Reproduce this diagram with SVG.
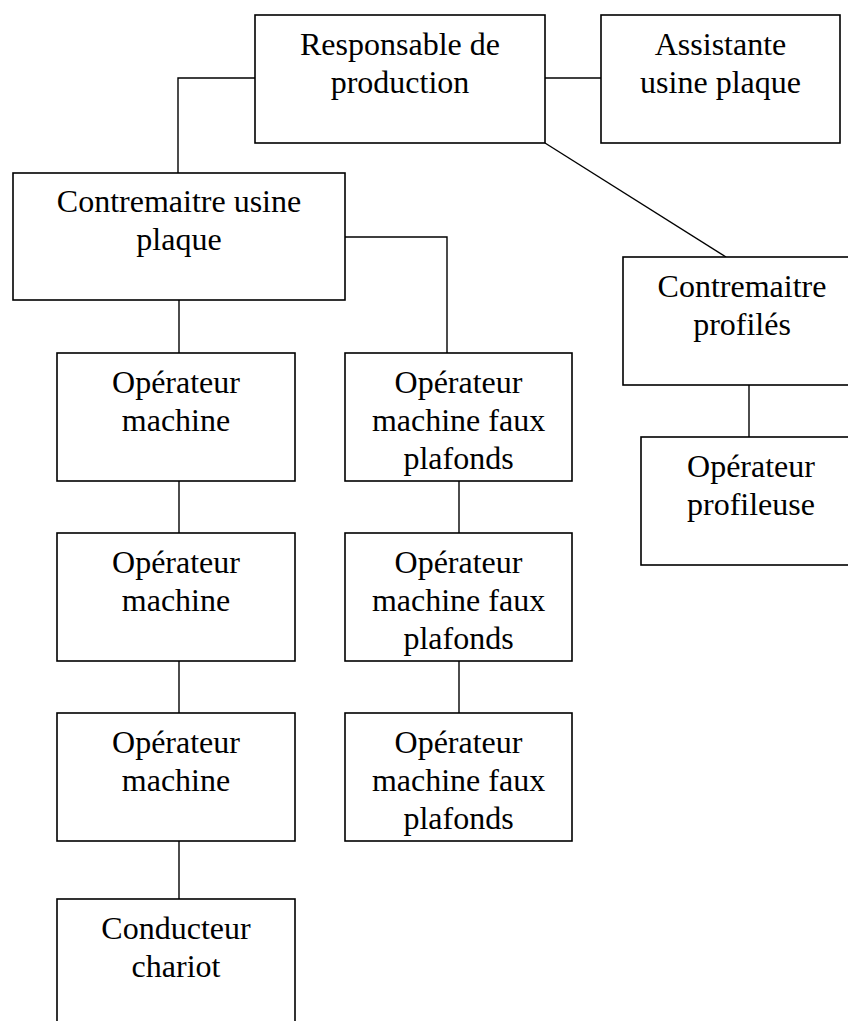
<svg xmlns="http://www.w3.org/2000/svg" width="848" height="1021" viewBox="0 0 848 1021">
  <style>
    .box { fill: #ffffff; stroke: #000000; stroke-width: 1.6; }
    .link { fill: none; stroke: #000000; stroke-width: 1.4; }
    text { font-family: "Liberation Serif", "Times New Roman", serif; font-size: 32px; fill: #000000; text-anchor: middle; }
  </style>
  <rect width="848" height="1021" fill="#ffffff"/>

  <!-- connectors -->
  <g id="connectors">
    <polyline class="link" points="255,78 178,78 178,173"/>
    <line class="link" x1="545" y1="78" x2="601" y2="78"/>
    <line class="link" x1="545" y1="143" x2="726" y2="257"/>
    <polyline class="link" points="345,237 447,237 447,353"/>
    <line class="link" x1="179" y1="300" x2="179" y2="353"/>
    <line class="link" x1="179" y1="481" x2="179" y2="533"/>
    <line class="link" x1="179" y1="661" x2="179" y2="713"/>
    <line class="link" x1="179" y1="841" x2="179" y2="899"/>
    <line class="link" x1="459" y1="481" x2="459" y2="533"/>
    <line class="link" x1="459" y1="661" x2="459" y2="713"/>
    <line class="link" x1="749" y1="385" x2="749" y2="437"/>
  </g>

  <g id="responsable">
    <rect class="box" x="255" y="15" width="290" height="128"/>
    <text x="400" y="55">Responsable de</text>
    <text x="400" y="93">production</text>
  </g>

  <g id="assistante">
    <rect class="box" x="601" y="15" width="239" height="128"/>
    <text x="720.5" y="55">Assistante</text>
    <text x="720.5" y="93">usine plaque</text>
  </g>

  <g id="contremaitre-plaque">
    <rect class="box" x="13" y="173" width="332" height="127"/>
    <text x="179" y="212">Contremaitre usine</text>
    <text x="179" y="250">plaque</text>
  </g>

  <g id="contremaitre-profiles">
    <rect class="box" x="623" y="257" width="238" height="128"/>
    <text x="742" y="297">Contremaitre</text>
    <text x="742" y="335">profilés</text>
  </g>

  <g id="operateur-profileuse">
    <rect class="box" x="641" y="437" width="220" height="128"/>
    <text x="751" y="477">Opérateur</text>
    <text x="751" y="515">profileuse</text>
  </g>

  <g id="operateur-machine-1">
    <rect class="box" x="57" y="353" width="238" height="128"/>
    <text x="176" y="393">Opérateur</text>
    <text x="176" y="431">machine</text>
  </g>

  <g id="operateur-machine-2">
    <rect class="box" x="57" y="533" width="238" height="128"/>
    <text x="176" y="573">Opérateur</text>
    <text x="176" y="611">machine</text>
  </g>

  <g id="operateur-machine-3">
    <rect class="box" x="57" y="713" width="238" height="128"/>
    <text x="176" y="753">Opérateur</text>
    <text x="176" y="791">machine</text>
  </g>

  <g id="conducteur-chariot">
    <rect class="box" x="57" y="899" width="238" height="130"/>
    <text x="176" y="939">Conducteur</text>
    <text x="176" y="977">chariot</text>
  </g>

  <g id="faux-plafonds-1">
    <rect class="box" x="345" y="353" width="227" height="128"/>
    <text x="458.5" y="393">Opérateur</text>
    <text x="458.5" y="431">machine faux</text>
    <text x="458.5" y="469">plafonds</text>
  </g>

  <g id="faux-plafonds-2">
    <rect class="box" x="345" y="533" width="227" height="128"/>
    <text x="458.5" y="573">Opérateur</text>
    <text x="458.5" y="611">machine faux</text>
    <text x="458.5" y="649">plafonds</text>
  </g>

  <g id="faux-plafonds-3">
    <rect class="box" x="345" y="713" width="227" height="128"/>
    <text x="458.5" y="753">Opérateur</text>
    <text x="458.5" y="791">machine faux</text>
    <text x="458.5" y="829">plafonds</text>
  </g>
</svg>
